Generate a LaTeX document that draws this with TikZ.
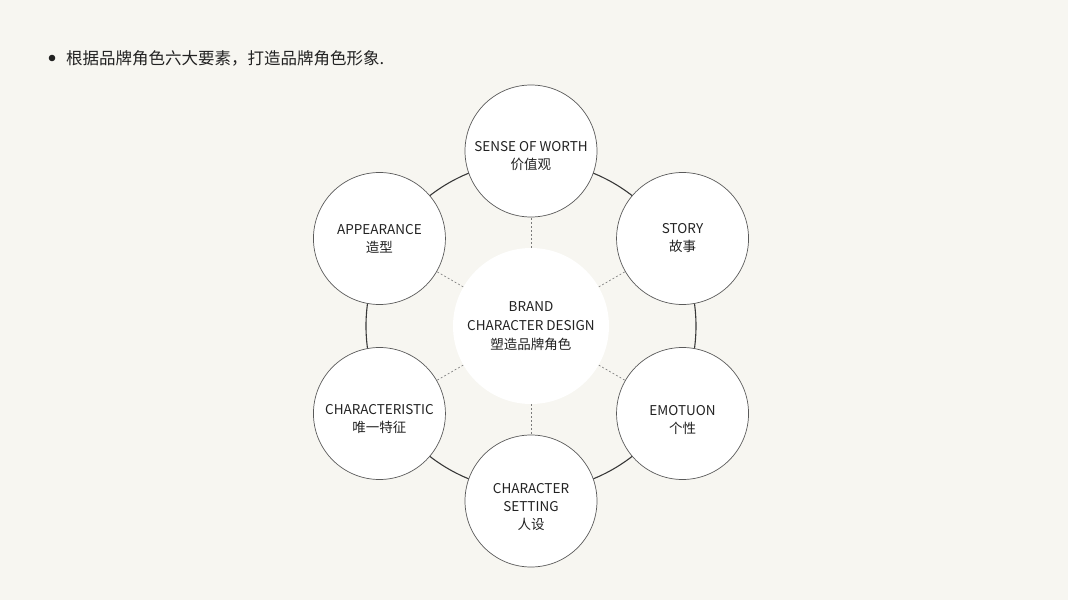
\documentclass[tikz,border=0pt]{standalone}
\usepackage{fontspec}
\setmainfont{Noto Sans CJK SC}
\usetikzlibrary{positioning}

\definecolor{paper}{HTML}{F7F6F1}
\definecolor{ink}{HTML}{222222}
\definecolor{rim}{HTML}{5A5A5A}

\tikzset{
  petal/.style={circle, draw=rim, line width=0.7pt, fill=white, minimum size=132pt, inner sep=0pt},
  petaltext/.style={align=center, text=ink, inner sep=0pt, font=\fontsize{13.5}{18}\selectfont},
  hubnode/.style={circle, fill=white, minimum size=156pt, inner sep=0pt, align=center,
    text=ink, font=\fontsize{13.5}{19}\selectfont},
  spoke/.style={draw=rim!80, line width=0.6pt, dash pattern=on 2pt off 2pt},
  ring/.style={draw=ink!90, line width=1.1pt}
}

\begin{document}
\begin{tikzpicture}[x=1pt,y=1pt]
    % page and margins
    \fill[paper] (-531,326) rectangle (537,-274);
    \useasboundingbox (-531,326) rectangle (537,-274);

    % heading
    \fill[ink] (-479,268) circle (3.3);
    \node[anchor=west, text=ink, font=\fontsize{16.5}{19}\selectfont, inner sep=0pt] (title) at (-465,268) {根据品牌角色六大要素，打造品牌角色形象.};

    % ring behind the six elements
    \draw[ring] (0,0) circle (165);

    % centre
    \node[hubnode] (hub) at (0,0) {BRAND\\CHARACTER DESIGN\\塑造品牌角色};

    % six elements (angle / name / text drop / text)
    \foreach \ang/\name/\drop/\txt in {90/worth/5/{SENSE OF WORTH\\价值观},
                                       30/story/0/{STORY\\故事},
                                       -30/emotion/6/{EMOTUON\\个性},
                                       -90/setting/6/{CHARACTER\\SETTING\\人设},
                                       210/trait/6/{CHARACTERISTIC\\唯一特征},
                                       150/look/0/{APPEARANCE\\造型}} {
      \node[petal] (\name) at (\ang:175) {};
      \node[petaltext] (\name-txt) at ([yshift=-\drop pt]\name.center) {\txt};
      \draw[spoke] (hub) -- (\name);
    }
\end{tikzpicture}
\end{document}
